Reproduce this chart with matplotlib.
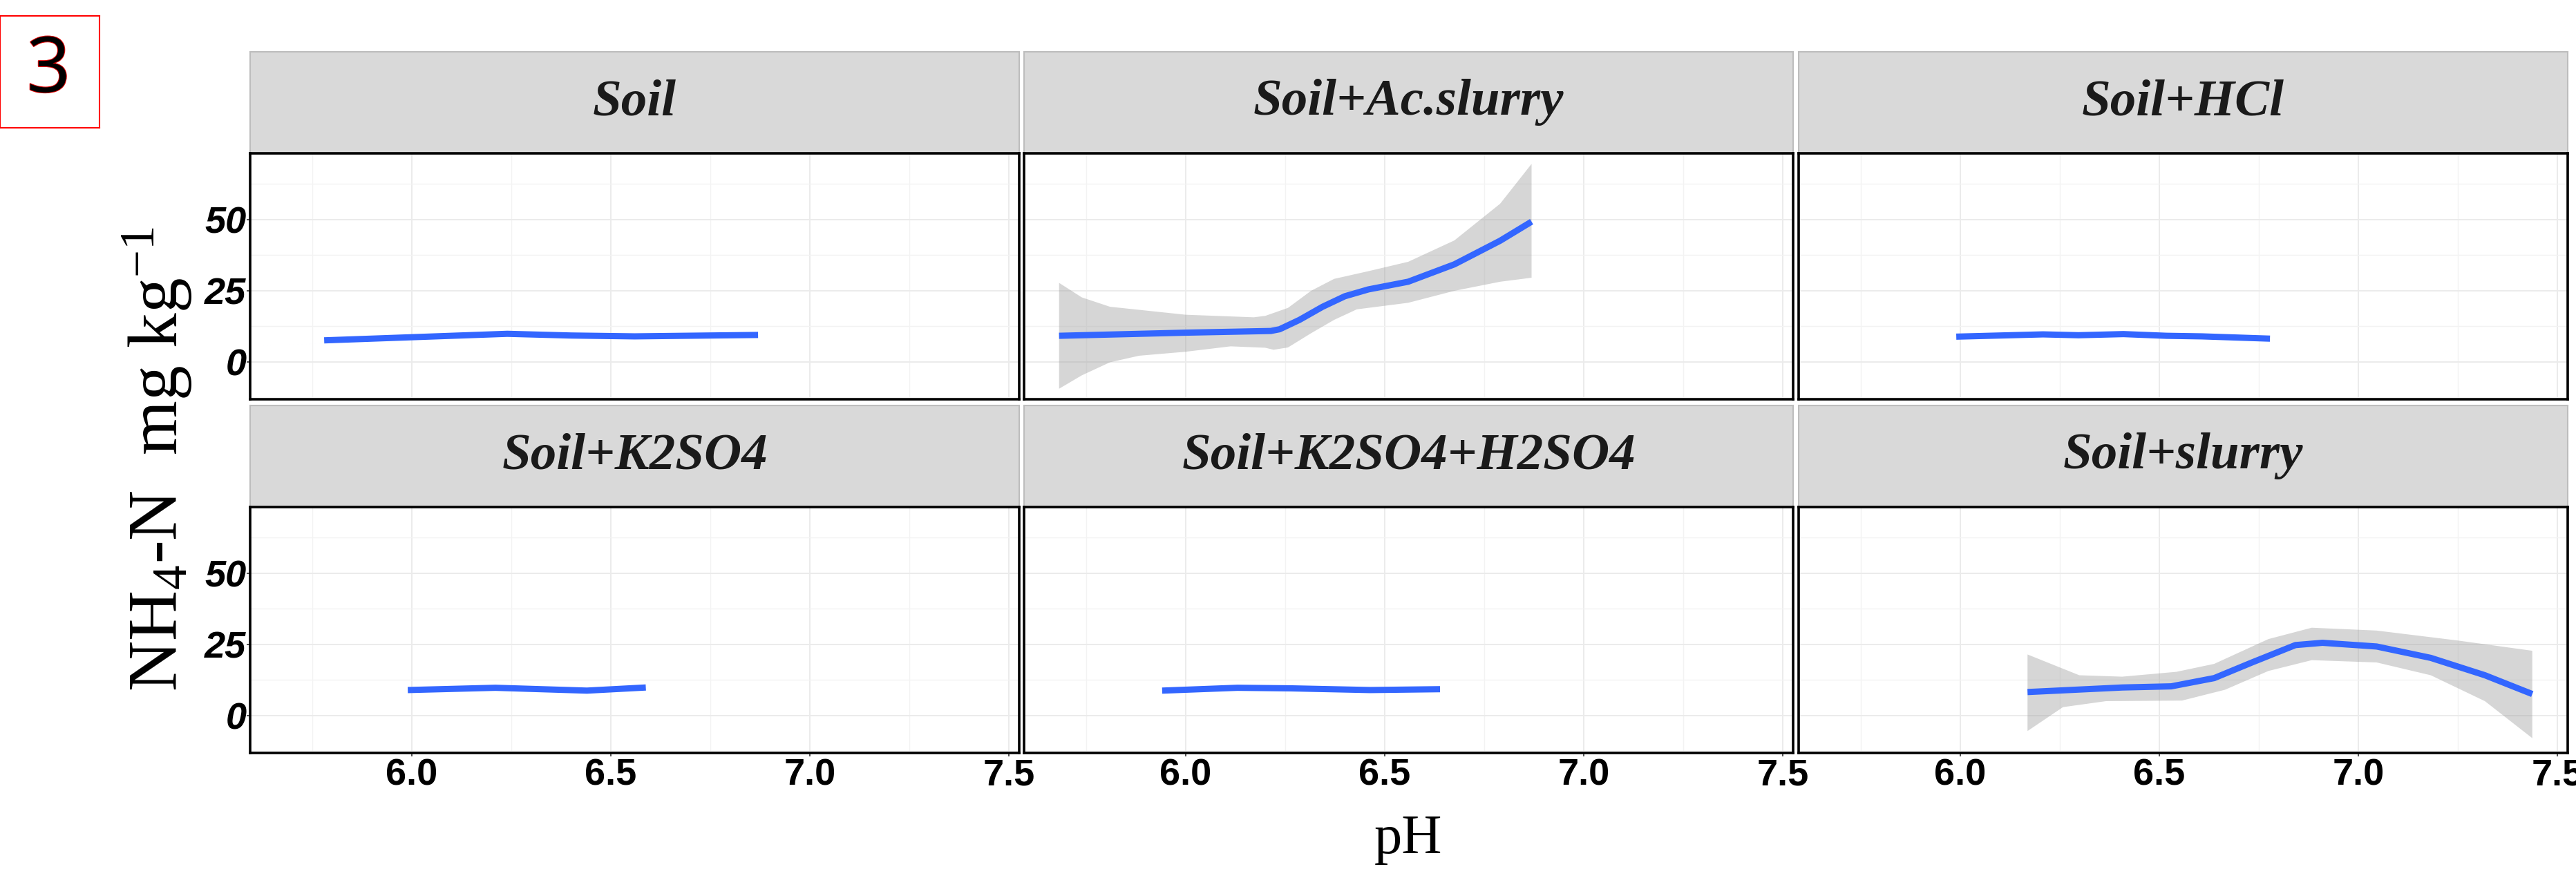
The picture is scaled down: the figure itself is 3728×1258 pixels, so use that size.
import numpy as np
import matplotlib
matplotlib.use("Agg")
import matplotlib.pyplot as plt
from matplotlib import font_manager
import matplotlib.patheffects as pe

W, H = 3728, 1258
DPI = 100

names = {f.name for f in font_manager.fontManager.ttflist}
tickFamily = "Liberation Sans Narrow" if "Liberation Sans Narrow" in names else "Liberation Sans"
tickSize = 44 if tickFamily == "Liberation Sans Narrow" else 39

plt.rcParams["mathtext.fontset"] = "custom"
plt.rcParams["mathtext.rm"] = "Liberation Serif"
plt.rcParams["mathtext.it"] = "Liberation Serif:italic"

# ---- data (pH vs NH4-N, loess fits) ----
panels = ["Soil", "Soil+Ac.slurry", "Soil+HCl",
          "Soil+K2SO4", "Soil+K2SO4+H2SO4", "Soil+slurry"]

soil_ph = [5.78, 6.0, 6.24, 6.40, 6.56, 6.87]
soil_nh4 = [7.5, 8.6, 9.8, 9.2, 8.9, 9.4]

acs_ph = [5.682, 6.0, 6.214, 6.236, 6.286, 6.344, 6.40, 6.459, 6.559, 6.675, 6.79, 6.869]
acs_nh4 = [9.1, 10.2, 10.8, 11.4, 14.7, 19.3, 23.0, 25.4, 28.1, 34.2, 42.5, 49.2]
acs_up_ph = [5.682, 5.739, 5.81, 6.0, 6.171, 6.2, 6.257, 6.315, 6.373, 6.459, 6.559, 6.675, 6.79, 6.869]
acs_up = [27.7, 22.6, 19.3, 16.5, 15.6, 16.1, 18.9, 24.9, 29.1, 31.8, 35.1, 42.6, 55.5, 69.5]
acs_lo_ph = [5.682, 5.739, 5.81, 5.883, 6.0, 6.113, 6.2, 6.221, 6.257, 6.315, 6.373, 6.43, 6.559, 6.675, 6.79, 6.869]
acs_lo = [-9.5, -4.8, -0.2, 2.1, 3.5, 5.4, 4.9, 4.2, 5.0, 10.0, 14.7, 18.4, 20.7, 24.9, 28.1, 29.5]

hcl_ph = [5.99, 6.208, 6.297, 6.41, 6.518, 6.607, 6.778]
hcl_nh4 = [8.8, 9.6, 9.3, 9.7, 9.1, 8.9, 8.1]

k2_ph = [5.99, 6.21, 6.44, 6.588]
k2_nh4 = [8.9, 9.7, 8.7, 9.8]

kh_ph = [5.941, 6.13, 6.264, 6.463, 6.639]
kh_nh4 = [8.7, 9.7, 9.5, 8.9, 9.2]

sl_ph = [6.169, 6.407, 6.53, 6.638, 6.733, 6.842, 6.91, 7.046, 7.182, 7.318, 7.437]
sl_nh4 = [8.2, 9.8, 10.2, 13.1, 18.6, 24.7, 25.5, 24.2, 20.2, 14.1, 7.5]
sl_up_ph = [6.169, 6.299, 6.407, 6.543, 6.638, 6.774, 6.883, 7.046, 7.25, 7.437]
sl_up = [21.4, 14.1, 13.6, 15.3, 18.1, 26.8, 30.8, 29.8, 26.3, 22.7]
sl_lo_ph = [6.169, 6.258, 6.366, 6.557, 6.665, 6.774, 6.883, 7.046, 7.182, 7.318, 7.437]
sl_lo = [-5.5, 2.9, 5.0, 5.2, 9.0, 15.6, 19.4, 18.6, 14.1, 5.0, -8.0]

fits = [
    (soil_ph, soil_nh4, None),
    (acs_ph, acs_nh4, (acs_up_ph, acs_up, acs_lo_ph, acs_lo)),
    (hcl_ph, hcl_nh4, None),
    (k2_ph, k2_nh4, None),
    (kh_ph, kh_nh4, None),
    (sl_ph, sl_nh4, (sl_up_ph, sl_up, sl_lo_ph, sl_lo)),
]

x_ticks = [6.0, 6.5, 7.0, 7.5]
x_minor = [5.75, 6.25, 6.75, 7.25]
y_ticks = [0, 25, 50]
y_minor = [-12.5, 12.5, 37.5, 62.5]

fig = plt.figure(figsize=(W / DPI, H / DPI), dpi=DPI)
fig.patch.set_facecolor("white")

def box(x0, y0, x1, y1):
    return [x0 / W, 1 - y1 / H, (x1 - x0) / W, (y1 - y0) / H]

col_left = [362, 1482, 2603]
col_w = 1113
row_panel = [(222, 578), (734, 1090)]
row_strip = [(75, 222), (587, 734)]

for i, name in enumerate(panels):
    r, c = divmod(i, 3)
    x0 = col_left[c]
    # strip
    sax = fig.add_axes(box(x0, row_strip[r][0], x0 + col_w, row_strip[r][1]))
    sax.set_facecolor("#D9D9D9")
    sax.set_xticks([])
    sax.set_yticks([])
    for s in sax.spines.values():
        s.set_color("#BDBDBD")
        s.set_linewidth(1.5)
    sax.text(0.5, 0.5, name, transform=sax.transAxes, ha="center", va="center",
             fontsize=54, family="Liberation Serif", weight="bold", style="italic",
             color="#1A1A1A")

    ax = fig.add_axes(box(x0, row_panel[r][0], x0 + col_w, row_panel[r][1]))
    ax.set_xlim(5.594, 7.526)
    ax.set_ylim(-13.2, 73.2)
    ax.set_xticks(x_ticks)
    ax.set_xticks(x_minor, minor=True)
    ax.set_yticks(y_ticks)
    ax.set_yticks(y_minor, minor=True)
    ax.set_axisbelow(True)
    ax.grid(which="major", color="#EBEBEB", lw=1.4)
    ax.grid(which="minor", color="#F3F3F3", lw=1.0)
    for s in ax.spines.values():
        s.set_color("black")
        s.set_linewidth(2.6)
    ax.tick_params(which="minor", length=0)
    ax.tick_params(which="major", length=3.5, width=1.2, color="#333333", pad=2)

    ph, nh4, band = fits[i]
    if band is not None:
        up_x, up_y, lo_x, lo_y = band
        ax.fill(list(up_x) + list(lo_x)[::-1], list(up_y) + list(lo_y)[::-1],
                color="#999999", alpha=0.4, lw=0)
    ax.plot(ph, nh4, color="#3366FF", lw=6.5, solid_capstyle="butt",
            solid_joinstyle="round", zorder=3)

    if r == 1:
        ax.set_xticklabels(["6.0", "6.5", "7.0", "7.5"], family=tickFamily,
                           weight="bold", fontsize=tickSize)
    else:
        ax.tick_params(axis="x", which="major", length=0, labelbottom=False)
    if c == 0:
        ax.set_yticklabels(["0", "25", "50"], family=tickFamily, weight="bold",
                           style="italic", fontsize=tickSize)
        ax.tick_params(axis="y", pad=0.5)
    else:
        ax.tick_params(axis="y", which="major", length=0, labelleft=False)

# axis titles
fig.text(228 / W, 1 - 664 / H, r"NH$_4$-N  mg kg$^{-1}$", rotation=90,
         ha="center", va="center", fontsize=73, family="Liberation Serif")
fig.text(2038 / W, 1 - 1235 / H, "pH", ha="center", va="baseline",
         fontsize=58, family="Liberation Serif")

# panel label "3" in a red box
lab = fig.add_axes(box(0, 23, 144, 185))
lab.set_xticks([])
lab.set_yticks([])
lab.set_facecolor("white")
for s in lab.spines.values():
    s.set_color("#FF0000")
    s.set_linewidth(1.5)
t = lab.text(0.49, 0.5, "3", transform=lab.transAxes, ha="center", va="center",
             fontsize=80, family="Open Sans", color="black")
t.set_path_effects([pe.withStroke(linewidth=1.5, foreground="#E00000")])

fig.savefig("out.png", dpi=DPI)
